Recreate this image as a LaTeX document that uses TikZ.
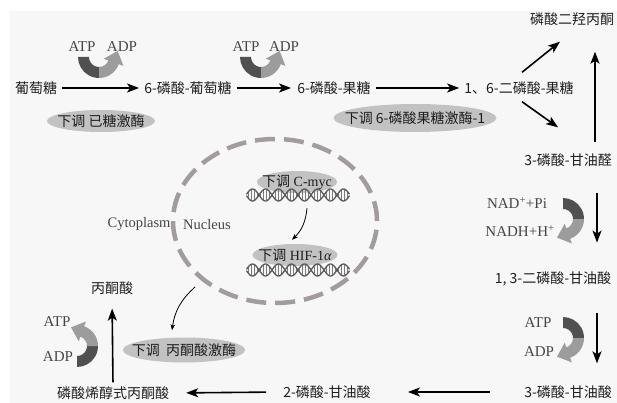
\documentclass[tikz,border=0pt]{standalone}
\usepackage{fontspec}
\setmainfont{Liberation Serif}
\newfontfamily\cjk{Noto Sans CJK SC}
\usetikzlibrary{arrows.meta,shapes.geometric,calc}

\definecolor{pagebg}{HTML}{F7F7F7}
\definecolor{enzfill}{HTML}{C2C2C2}
\definecolor{nucdash}{HTML}{A39C9C}
\definecolor{benddark}{HTML}{505050}
\definecolor{bendlight}{HTML}{9C9C9C}
\definecolor{labelgray}{HTML}{454545}
\definecolor{metab}{HTML}{1E1E1E}
\definecolor{dnagray}{HTML}{5A5A5A}

\tikzset{
  metabolite/.style={font=\cjk\fontsize{14}{16}\selectfont, text=metab, inner sep=2pt},
  cofactor/.style={font=\fontsize{15}{17}\selectfont, text=labelgray, inner sep=1pt},
  enzyme/.style={ellipse, fill=enzfill, inner xsep=-20pt, inner ysep=0pt,
                 font=\fontsize{14}{16}\selectfont, text=metab},
  flow/.style={line width=1.6pt, -{Stealth[length=12pt,width=9pt,inset=3pt]}},
  signal/.style={line width=0.8pt, -{Stealth[length=6pt,width=4.5pt,inset=1.5pt]}},
  % thick two-tone U-turn arrow for cofactor exchange
  bentturn/.pic={
    \fill[benddark] (180:21) arc[start angle=180,end angle=272,radius=21]
      -- (272:10) arc[start angle=272,end angle=180,radius=10] -- cycle;
    \fill[bendlight] (270:21) arc[start angle=270,end angle=340,radius=21]
      -- (340:26) -- ($(340:15.5)+(70:12)$) -- (340:5)
      -- (340:10) arc[start angle=340,end angle=270,radius=10] -- cycle;
  },
  % short stretch of double helix
  helix/.pic={
    \foreach \t in {-50,-47,...,50}
      \draw[dnagray!80, line width=0.6pt] (\t,{6*sin(\t/26*360)}) -- (\t,{-6*sin(\t/26*360)});
    \draw[dnagray, line width=1.3pt] plot[domain=-51.5:51.5,samples=90,smooth] (\x,{6*sin(\x/26*360)});
    \draw[dnagray, line width=1.3pt] plot[domain=-51.5:51.5,samples=90,smooth] (\x,{-6*sin(\x/26*360)});
  }
}

\begin{document}
\begin{tikzpicture}[x=1pt,y=1pt]
\useasboundingbox (0,0) rectangle (617,-403);
\fill[white] (0,0) rectangle (617,-403);
\fill[pagebg] (10,-11) rectangle (617,-403);

% glycolysis intermediates
\node[metabolite] (glc)  at (36,-88)  {葡萄糖};
\node[metabolite] (g6p)  at (188,-88) {6-磷酸-葡萄糖};
\node[metabolite] (f6p)  at (334,-88) {6-磷酸-果糖};
\node[metabolite] (fbp)  at (519,-88) {1、6-二磷酸-果糖};
\node[metabolite] (dhap) at (572,-19) {磷酸二羟丙酮};
\node[metabolite] (g3p)  at (568,-160) {3-磷酸-甘油醛};
\node[metabolite] (bpg)  at (553,-279) {1, 3-二磷酸-甘油酸};
\node[metabolite] (pg3)  at (568,-392) {3-磷酸-甘油酸};
\node[metabolite] (pg2)  at (327,-392) {2-磷酸-甘油酸};
\node[metabolite] (pep)  at (113,-393) {磷酸烯醇式丙酮酸};
\node[metabolite] (pyr)  at (112,-288) {丙酮酸};

% main flow
\draw[flow, shorten <=3pt, shorten >=3pt] (glc.east) -- (g6p.west);
\draw[flow, shorten <=3pt, shorten >=4pt] (g6p.east) -- (f6p.west);
\draw[flow, shorten <=3pt, shorten >=3pt] (f6p.east) -- (fbp.west);
\draw[flow] ([xshift=3pt,yshift=7pt]fbp.north) -- ([xshift=-12pt,yshift=-14pt]dhap.south);
\draw[flow] ([xshift=3pt,yshift=-5pt]fbp.south) -- ([xshift=-10pt,yshift=24pt]g3p.north);
\draw[flow] ([xshift=27pt,yshift=9pt]g3p.north) -- ([xshift=23pt,yshift=-24pt]dhap.south);
\draw[flow] ([xshift=29pt,yshift=-24pt]g3p.south) -- ([xshift=44pt,yshift=27pt]bpg.north);
\draw[flow] ([xshift=44pt,yshift=-25pt]bpg.south) -- ([xshift=29pt,yshift=20pt]pg3.north);
\draw[flow, shorten <=32pt, shorten >=35pt] (pg3.west) -- (pg2.east);
\draw[flow, shorten <=15pt, shorten >=15pt] (pg2.west) -- (pep.east);
\draw[flow, shorten <=2pt, shorten >=12pt] (pep.north) -- (pyr.south);

% cofactors
\node[cofactor] (atpa) at (82,-47)  {ATP};
\node[cofactor] (adpa) at (122,-47) {ADP};
\node[cofactor] (atpb) at (246,-47) {ATP};
\node[cofactor] (adpb) at (284,-47) {ADP};
\node[cofactor] (nad)  at (517,-203) {NAD\textsuperscript{+}+Pi};
\node[cofactor] (nadh) at (520,-231) {NADH+H\textsuperscript{+}};
\node[cofactor] (atpc) at (538,-323) {ATP};
\node[cofactor] (adpc) at (539,-352) {ADP};
\node[cofactor] (atpd) at (57,-322) {ATP};
\node[cofactor] (adpd) at (58,-357) {ADP};

\pic (turna) at (99,-57) {bentturn};
\pic (turnb) at (261,-57) {bentturn};
\pic[rotate=90,xscale=-1] (turnc) at (563,-219) {bentturn};
\pic[rotate=90,xscale=-1] (turnd) at (563,-338) {bentturn};
\pic[rotate=90] (turne) at (77,-346) {bentturn};

% down-regulated enzymes
\node[enzyme, minimum width=108pt, minimum height=22pt] (hk) at (101,-121) {{\cjk 下调 已糖激酶}};
\node[enzyme, minimum width=163pt, minimum height=28pt] (pfk) at (415,-118) {{\cjk 下调 6-磷酸果糖激酶-1}};
\node[enzyme, minimum width=122pt, minimum height=25pt] (pk) at (184,-350) {{\cjk 下调\ \ 丙酮酸激酶}};

% nucleus
\node[ellipse, draw=nucdash, line width=4.5pt, dash pattern=on 20pt off 9pt,
      minimum width=204pt, minimum height=164pt, inner sep=0pt] (nucleus) at (275,-221) {};
\node[cofactor, font=\fontsize{14.5}{16}\selectfont] (cyto) at (139,-224) {Cytoplasm};
\node[cofactor, font=\fontsize{14.5}{16}\selectfont] (nuclab) at (207,-225) {Nucleus};

\node[enzyme, minimum width=80pt, minimum height=22pt] (myc) at (297,-182) {{\cjk 下调} C-myc};
\pic (dnaa) at (298,-195) {helix};
\node[enzyme, minimum width=85pt, minimum height=22pt] (hif) at (295,-255) {{\cjk 下调} HIF-1\textit{α}};
\pic (dnab) at (298,-270) {helix};

\draw[signal] ([xshift=10pt,yshift=-15pt]myc.south) to[bend left=20] ([xshift=-3pt,yshift=4pt]hif.north);
\coordinate (nucout) at (195,-287);
\draw[signal] (nucout) to[bend right=20] ([xshift=-12pt,yshift=7pt]pk.north);
\end{tikzpicture}
\end{document}
